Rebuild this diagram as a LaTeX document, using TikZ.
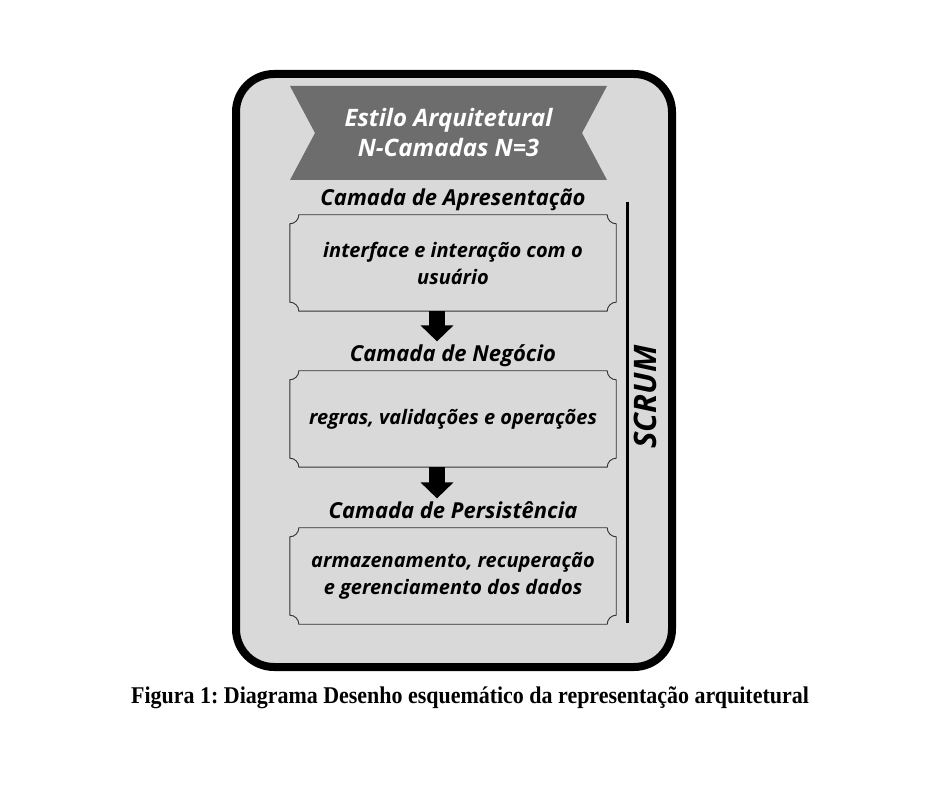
\documentclass[tikz,border=0pt]{standalone}
\usepackage{fontspec}
\newfontfamily\opensans{Open Sans}
\newfontfamily\capserif[FakeStretch=0.915]{Liberation Serif}
\usetikzlibrary{shapes.symbols, arrows.meta, positioning, calc}
\definecolor{panelgray}{HTML}{D9D9D9}
\definecolor{bannergray}{HTML}{6D6D6D}
\definecolor{edgegray}{HTML}{333333}
\tikzset{
    frame/.style={
        draw=black,
        line width=8pt,
        rounded corners=38pt,
        fill=panelgray
    },
    banner/.style={
        signal,
        signal from=west and east,
        signal to=nowhere,
        signal pointer angle=124,
        fill=bannergray,
        minimum width=317pt,
        minimum height=94pt,
        inner sep=0pt,
        text=white,
        align=center,
        font=\opensans\bfseries\itshape\fontsize{24}{30}\selectfont
    },
    layerbox/.style={
        rectangle,
        minimum width=326pt,
        minimum height=96pt,
        inner sep=0pt,
        align=center,
        font=\opensans\bfseries\itshape\fontsize{20}{27}\selectfont
    },
    layertitle/.style={
        inner sep=0pt,
        text height=16pt,
        text depth=5pt,
        font=\opensans\bfseries\itshape\fontsize{22}{26}\selectfont
    },
    plaque/.style={
        draw=edgegray,
        line width=0.9pt
    },
    flowarrow/.style={
        draw=black,
        line width=16pt,
        -{Triangle[width=32pt, length=16pt]}
    },
    sideline/.style={
        draw=black,
        line width=3pt
    }
}

\begin{document}
\begin{tikzpicture}[x=1pt, y=1pt]
\useasboundingbox (0,0) rectangle (940,788);

% Outer panel
\draw[frame] (236,714) rectangle (672,121);

% Banner
\node[banner] (style) at (448.5,655) {Estilo Arquitetural\\N-Camadas N=3};

% Layers
\node[layerbox] (apres) at (453,525) {interface e interação com o\\usuário};
\node[layerbox] (negocio) at (453,369) {regras, validações e operações};
\node[layerbox] (persist) at (453,212) {armazenamento, recuperação\\e gerenciamento dos dados};

\foreach \b in {apres, negocio, persist} {
    \draw[plaque] ($(\b.north west)+(9,0)$) -- ($(\b.north east)+(-9,0)$)
        arc[start angle=180, end angle=270, radius=9pt]
        -- ($(\b.south east)+(0,9)$)
        arc[start angle=90, end angle=180, radius=9pt]
        -- ($(\b.south west)+(9,0)$)
        arc[start angle=0, end angle=90, radius=9pt]
        -- ($(\b.north west)+(0,-9)$)
        arc[start angle=270, end angle=360, radius=9pt] -- cycle;
}

% Layer titles
\node[layertitle, above=4pt of apres] (apres_t) {Camada de Apresentação};
\node[layertitle, above=4pt of negocio] (negocio_t) {Camada de Negócio};
\node[layertitle, above=4pt of persist] (persist_t) {Camada de Persistência};

% Flow
\draw[flowarrow] ([xshift=-16pt]apres.south) -- ([xshift=-16pt, yshift=4pt]negocio_t.north);
\draw[flowarrow] ([xshift=-16pt]negocio.south) -- ([xshift=-16pt, yshift=4pt]persist_t.north);

% Scrum
\coordinate (scrum_top) at (627,586);
\coordinate (scrum_bot) at (627,165);
\draw[sideline] (scrum_top) -- (scrum_bot);
\node[font=\opensans\bfseries\itshape\fontsize{31}{34}\selectfont, rotate=90] (scrum) at (645,391) {SCRUM};

% Caption
\node[font=\capserif\bfseries\frenchspacing\fontsize{24}{28}\selectfont] (caption) at (470,90) {Figura 1: Diagrama Desenho esquemático da representação arquitetural};

\end{tikzpicture}
\end{document}
